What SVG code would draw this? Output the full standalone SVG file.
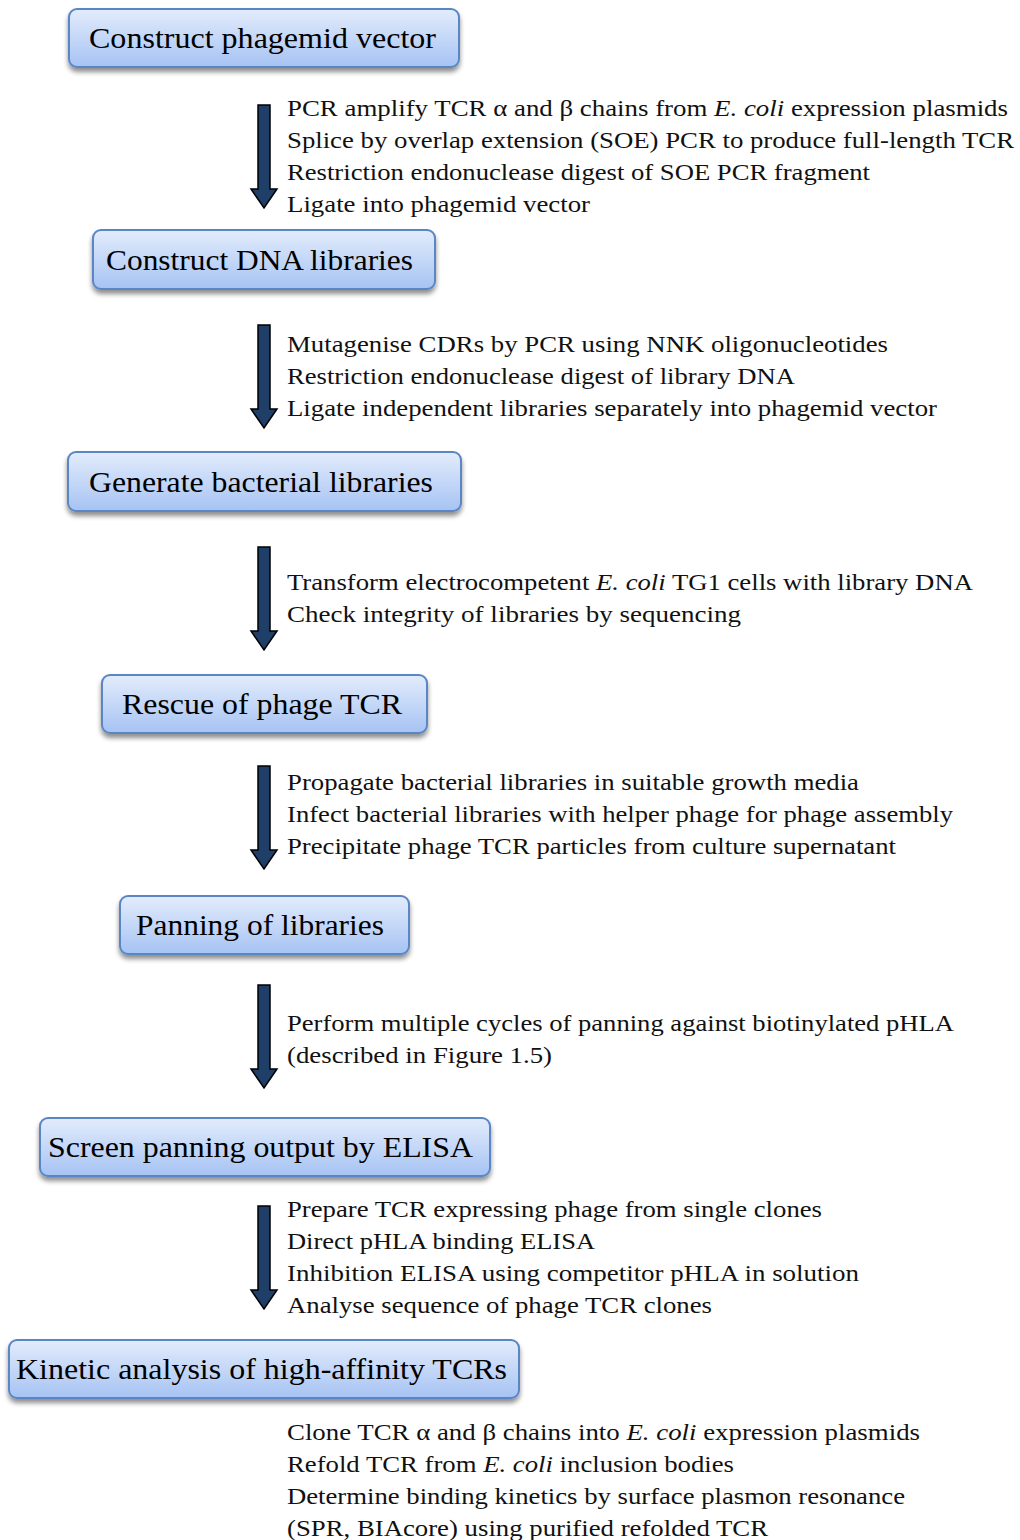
<svg xmlns="http://www.w3.org/2000/svg" width="1020" height="1540" viewBox="0 0 1020 1540">
<defs>
<linearGradient id="bg" x1="0" y1="0" x2="0" y2="1">
<stop offset="0" stop-color="#e3ecfc"/>
<stop offset="1" stop-color="#a6c3f3"/>
</linearGradient>
<filter id="sh" x="-10%" y="-30%" width="120%" height="170%">
<feGaussianBlur in="SourceAlpha" stdDeviation="2.5"/>
<feOffset dx="0" dy="4" result="b"/>
<feComponentTransfer><feFuncA type="linear" slope="0.45"/></feComponentTransfer>
<feMerge><feMergeNode/><feMergeNode in="SourceGraphic"/></feMerge>
</filter>
<path id="arr" d="M-6,0 H6 V84 H13 L0,103 L-13,84 H-6 Z"/>
</defs>
<style>
.box{fill:url(#bg);stroke:#5a86c5;stroke-width:2;filter:url(#sh)}
.bt{font-family:"Liberation Serif",serif;font-size:29px;fill:#000}
.t{font-family:"Liberation Serif",serif;font-size:24px;fill:#111}
.a{fill:#1f3e68;stroke:#000;stroke-width:1.5}
</style>
<g id="n1"><rect class="box" x="69" y="9" width="390" height="58" rx="8"/><text class="bt" x="89" y="48" textLength="347" lengthAdjust="spacingAndGlyphs">Construct phagemid vector</text></g>
<g id="n2"><rect class="box" x="93" y="230" width="342" height="59" rx="8"/><text class="bt" x="106" y="270" textLength="307" lengthAdjust="spacingAndGlyphs">Construct DNA libraries</text></g>
<g id="n3"><rect class="box" x="68" y="452" width="393" height="59" rx="8"/><text class="bt" x="89" y="492" textLength="344" lengthAdjust="spacingAndGlyphs">Generate bacterial libraries</text></g>
<g id="n4"><rect class="box" x="102" y="675" width="325" height="58" rx="8"/><text class="bt" x="122" y="714" textLength="280" lengthAdjust="spacingAndGlyphs">Rescue of phage TCR</text></g>
<g id="n5"><rect class="box" x="120" y="896" width="289" height="58" rx="8"/><text class="bt" x="136" y="935" textLength="248" lengthAdjust="spacingAndGlyphs">Panning of libraries</text></g>
<g id="n6"><rect class="box" x="40" y="1118" width="450" height="58" rx="8"/><text class="bt" x="48" y="1157" textLength="425" lengthAdjust="spacingAndGlyphs">Screen panning output by ELISA</text></g>
<g id="n7"><rect class="box" x="9" y="1340" width="510" height="58" rx="8"/><text class="bt" x="16" y="1379" textLength="491" lengthAdjust="spacingAndGlyphs">Kinetic analysis of high-affinity TCRs</text></g>
<g id="connectors">
<use href="#arr" class="a" x="264" y="105"/>
<use href="#arr" class="a" x="264" y="325"/>
<use href="#arr" class="a" x="264" y="547"/>
<use href="#arr" class="a" x="264" y="766"/>
<use href="#arr" class="a" x="264" y="985"/>
<use href="#arr" class="a" x="264" y="1206"/>
</g>
<g id="labels" class="t">
<text x="287" y="116" textLength="721" lengthAdjust="spacingAndGlyphs">PCR amplify TCR α and β chains from <tspan font-style="italic">E. coli</tspan> expression plasmids</text>
<text x="287" y="148" textLength="727" lengthAdjust="spacingAndGlyphs">Splice by overlap extension (SOE) PCR to produce full-length TCR</text>
<text x="287" y="180" textLength="583" lengthAdjust="spacingAndGlyphs">Restriction endonuclease digest of SOE PCR fragment</text>
<text x="287" y="212" textLength="303" lengthAdjust="spacingAndGlyphs">Ligate into phagemid vector</text>
<text x="287" y="352" textLength="601" lengthAdjust="spacingAndGlyphs">Mutagenise CDRs by PCR using NNK oligonucleotides</text>
<text x="287" y="384" textLength="508" lengthAdjust="spacingAndGlyphs">Restriction endonuclease digest of library DNA</text>
<text x="287" y="416" textLength="650" lengthAdjust="spacingAndGlyphs">Ligate independent libraries separately into phagemid vector</text>
<text x="287" y="590" textLength="686" lengthAdjust="spacingAndGlyphs">Transform electrocompetent <tspan font-style="italic">E. coli</tspan> TG1 cells with library DNA</text>
<text x="287" y="622" textLength="454" lengthAdjust="spacingAndGlyphs">Check integrity of libraries by sequencing</text>
<text x="287" y="790" textLength="572" lengthAdjust="spacingAndGlyphs">Propagate bacterial libraries in suitable growth media</text>
<text x="287" y="822" textLength="666" lengthAdjust="spacingAndGlyphs">Infect bacterial libraries with helper phage for phage assembly</text>
<text x="287" y="854" textLength="609" lengthAdjust="spacingAndGlyphs">Precipitate phage TCR particles from culture supernatant</text>
<text x="287" y="1031" textLength="667" lengthAdjust="spacingAndGlyphs">Perform multiple cycles of panning against biotinylated pHLA</text>
<text x="287" y="1063" textLength="265" lengthAdjust="spacingAndGlyphs">(described in Figure 1.5)</text>
<text x="287" y="1217" textLength="535" lengthAdjust="spacingAndGlyphs">Prepare TCR expressing phage from single clones</text>
<text x="287" y="1249" textLength="308" lengthAdjust="spacingAndGlyphs">Direct pHLA binding ELISA</text>
<text x="287" y="1281" textLength="572" lengthAdjust="spacingAndGlyphs">Inhibition ELISA using competitor pHLA in solution</text>
<text x="287" y="1313" textLength="425" lengthAdjust="spacingAndGlyphs">Analyse sequence of phage TCR clones</text>
<text x="287" y="1440" textLength="633" lengthAdjust="spacingAndGlyphs">Clone TCR α and β chains into <tspan font-style="italic">E. coli</tspan> expression plasmids</text>
<text x="287" y="1472" textLength="447" lengthAdjust="spacingAndGlyphs">Refold TCR from <tspan font-style="italic">E. coli</tspan> inclusion bodies</text>
<text x="287" y="1504" textLength="618" lengthAdjust="spacingAndGlyphs">Determine binding kinetics by surface plasmon resonance</text>
<text x="287" y="1536" textLength="481" lengthAdjust="spacingAndGlyphs">(SPR, BIAcore) using purified refolded TCR</text>
</g>
</svg>
